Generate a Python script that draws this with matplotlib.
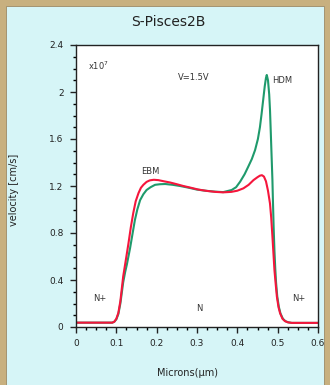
import matplotlib
matplotlib.use("Agg")
import matplotlib.pyplot as plt
from matplotlib.patches import Rectangle
from matplotlib.ticker import MultipleLocator

# velocity profiles (x in microns, v in 1e7 cm/s)
ebm_x = [0.005, 0.09, 0.095, 0.100, 0.105, 0.110, 0.117, 0.124, 0.130, 0.136,
         0.142, 0.148, 0.155, 0.161, 0.167, 0.175, 0.183, 0.193, 0.204, 0.218,
         0.233, 0.250, 0.266, 0.285, 0.303, 0.325, 0.345, 0.365, 0.385, 0.400,
         0.415, 0.428, 0.440, 0.450, 0.456, 0.461, 0.466, 0.471, 0.476, 0.481,
         0.484, 0.487, 0.490, 0.492, 0.495, 0.498, 0.502, 0.506, 0.512, 0.518,
         0.525, 0.535, 0.600]
ebm_v = [0.037, 0.037, 0.045, 0.07, 0.12, 0.22, 0.43, 0.58, 0.71, 0.85,
         0.97, 1.07, 1.14, 1.185, 1.21, 1.235, 1.248, 1.253, 1.25, 1.24,
         1.23, 1.215, 1.20, 1.185, 1.17, 1.158, 1.15, 1.146, 1.15, 1.16,
         1.18, 1.21, 1.25, 1.275, 1.288, 1.292, 1.28, 1.24, 1.16, 1.05,
         0.93, 0.77, 0.60, 0.485, 0.37, 0.26, 0.17, 0.117, 0.07, 0.05,
         0.04, 0.035, 0.035]

hdm_x = [0.005, 0.09, 0.095, 0.100, 0.105, 0.110, 0.117, 0.122, 0.126, 0.130,
         0.134, 0.140, 0.146, 0.152, 0.159, 0.167, 0.175, 0.185, 0.196, 0.208,
         0.221, 0.240, 0.258, 0.280, 0.299, 0.320, 0.345, 0.365, 0.386, 0.397,
         0.407, 0.418, 0.427, 0.436, 0.444, 0.451, 0.456, 0.460, 0.464, 0.468,
         0.471, 0.473, 0.476, 0.479, 0.481, 0.483, 0.485, 0.487, 0.488, 0.490,
         0.492, 0.494, 0.496, 0.499, 0.503, 0.507, 0.513, 0.519, 0.526, 0.535,
         0.600]
hdm_v = [0.037, 0.037, 0.045, 0.065, 0.11, 0.2, 0.38, 0.47, 0.53, 0.6,
         0.67, 0.79, 0.91, 1.00, 1.08, 1.13, 1.166, 1.19, 1.21, 1.215,
         1.217, 1.21, 1.20, 1.185, 1.17, 1.16, 1.152, 1.148, 1.166, 1.19,
         1.237, 1.30, 1.364, 1.43, 1.506, 1.60, 1.70, 1.81, 1.93, 2.05,
         2.12, 2.145, 2.10, 1.98, 1.846, 1.65, 1.45, 1.25, 1.11, 0.85,
         0.65, 0.50, 0.38, 0.26, 0.17, 0.115, 0.07, 0.05, 0.04, 0.035,
         0.035]

xticks = [0, 0.1, 0.2, 0.3, 0.4, 0.5, 0.6]
xlabels = ["0", "0.1", "0.2", "0.3", "0.4", "0.5", "0.6"]
yticks = [0, 0.4, 0.8, 1.2, 1.6, 2.0, 2.4]
ylabels = ["0", "0.4", "0.8", "1.2", "1.6", "2", "2.4"]

fig = plt.figure(figsize=(3.3, 3.85), dpi=100)
fig.patch.set_facecolor("#c8b07f")
fig.patches.append(Rectangle((6/330, 0), 318/330, 379/385, transform=fig.transFigure,
                             facecolor="#d6f5f7", edgecolor="#9c8a66", linewidth=0.6,
                             zorder=-5))

ax = fig.add_axes([76/330, 58/385, 242/330, 282/385])
ax.set_zorder(2)
ax.set_facecolor("white")
ax.plot(hdm_x, hdm_v, color="#1f9a6c", lw=1.5)
ax.plot(ebm_x, ebm_v, color="#f5163c", lw=1.5)

ax.set_xlim(0, 0.6)
ax.set_ylim(0, 2.4)
ax.set_xticks(xticks)
ax.set_xticklabels(xlabels)
ax.set_yticks(yticks)
ax.set_yticklabels(ylabels)
ax.xaxis.set_minor_locator(MultipleLocator(0.025))
ax.yaxis.set_minor_locator(MultipleLocator(0.1))
ax.tick_params(which="major", direction="out", length=4, width=1, labelsize=6.5,
               colors="#222222", pad=5)
ax.tick_params(which="minor", direction="out", length=2, width=1)
for s in ax.spines.values():
    s.set_linewidth(1)
    s.set_color("#222222")

tk = dict(fontsize=6, color="#333333")
ax.text(0.03, 2.22, "x10$^7$", ha="left", va="center", **tk)
ax.text(0.293, 2.12, "V=1.5V", ha="center", va="center", **tk)
ax.text(0.487, 2.10, "HDM", ha="left", va="center", **tk)
ax.text(0.185, 1.32, "EBM", ha="center", va="center", **tk)
ax.text(0.06, 0.24, "N+", ha="center", va="center", **tk)
ax.text(0.305, 0.155, "N", ha="center", va="center", **tk)
ax.text(0.552, 0.24, "N+", ha="center", va="center", **tk)

fig.text(0.5 + 3/330, 1 - 22/385, "S-Pisces2B", ha="center", va="center",
         fontsize=10, color="#222222")
fig.text(14/330, 1 - 190/385, "velocity [cm/s]", rotation=90, ha="center",
         va="center", fontsize=7, color="#222222")
fig.text(187/330, 1 - 373/385, "Microns(\u03bcm)", ha="center", va="center",
         fontsize=7, color="#222222")

fig.savefig("out.png", dpi=100, facecolor=fig.get_facecolor())
